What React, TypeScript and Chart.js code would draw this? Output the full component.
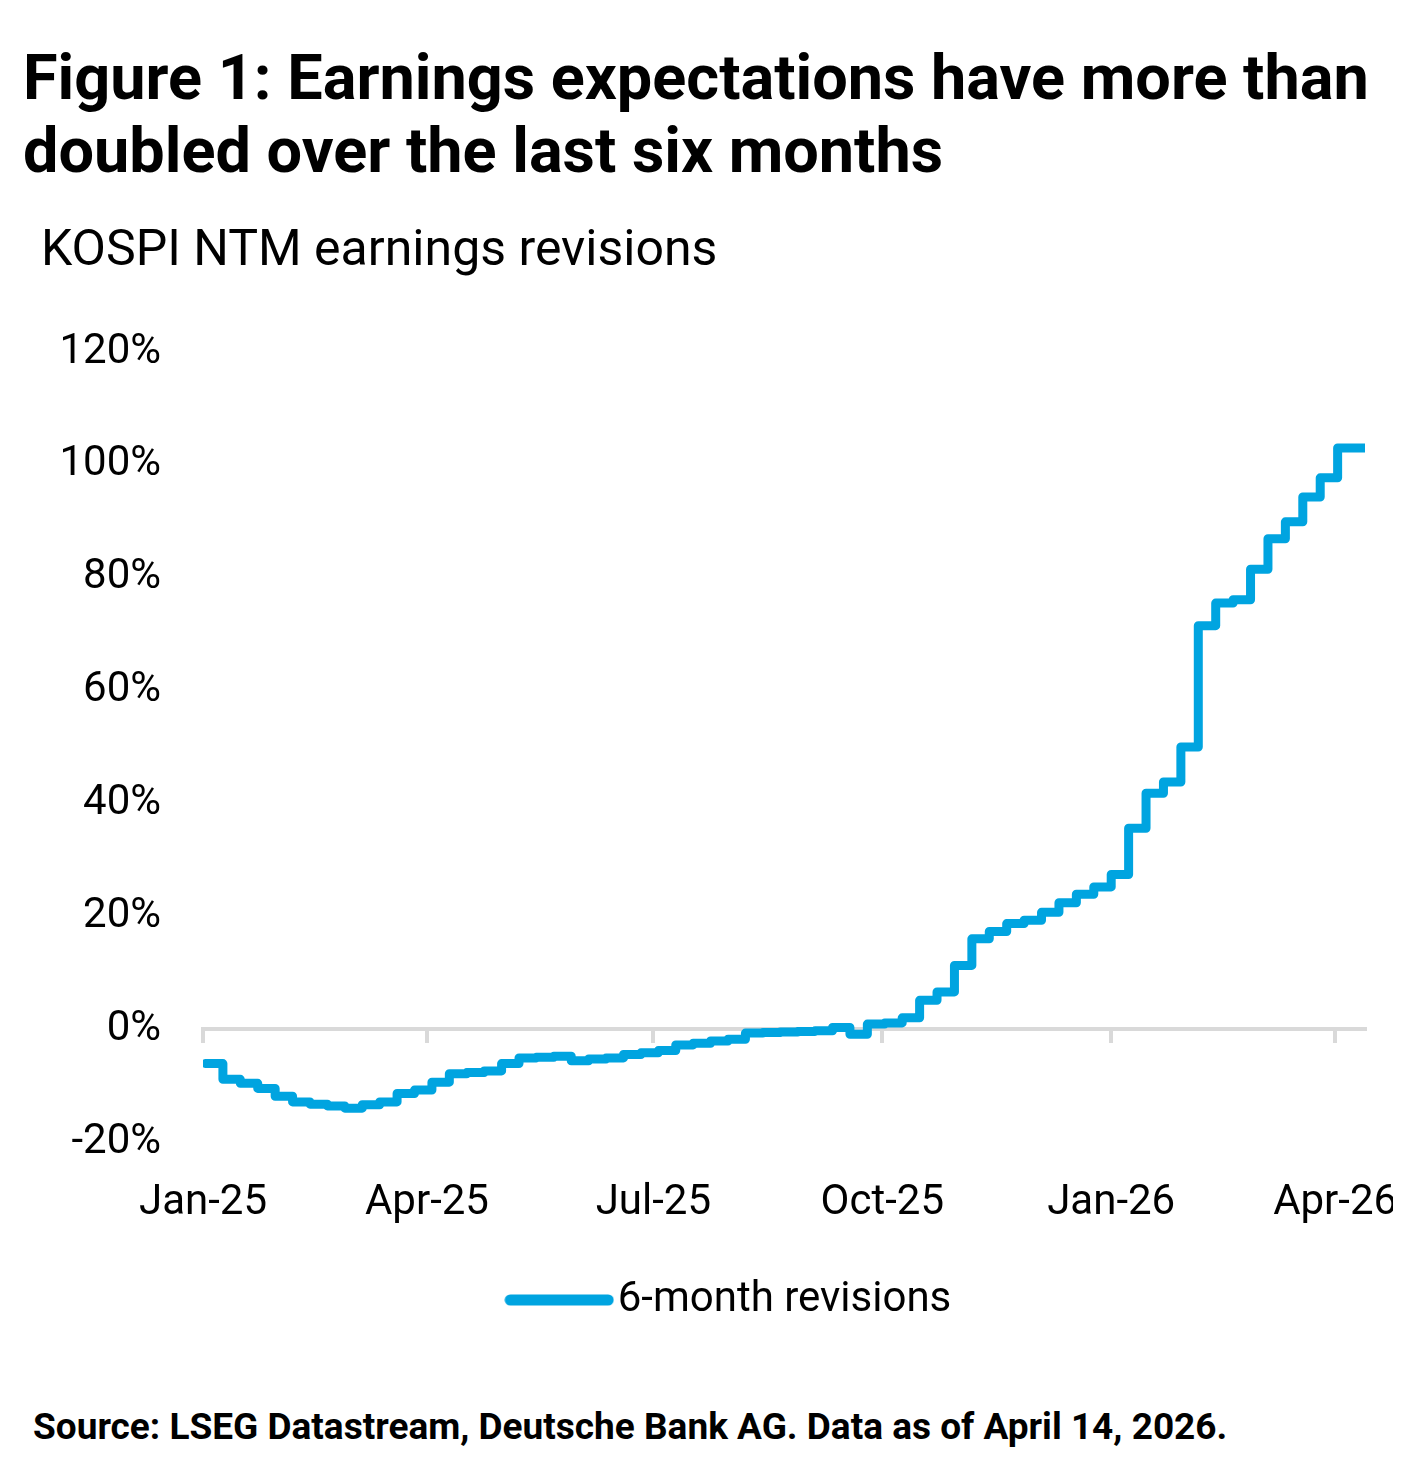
import React, { useEffect, useRef } from "react";
import { Chart, registerables } from "chart.js";

Chart.register(...registerables);

// ---- data ----
const AXIS_START = "2025-01-01";
const FIRST_WEEK = "2025-01-02"; // first weekly observation
const LAST_DATE = "2026-04-13"; // last daily observation
// weekly 6-month NTM earnings revisions, %
const weeklyRevisions = [
  -6.1, -8.9, -9.6, -10.5, -11.9, -12.9, -13.3, -13.6, -14.0, -13.4,
  -12.9, -11.4, -10.8, -9.4, -7.9, -7.7, -7.4, -6.1, -5.1, -5.0,
  -4.8, -5.6, -5.3, -5.1, -4.5, -4.2, -3.8, -2.8, -2.5, -2.1,
  -1.8, -0.7, -0.6, -0.5, -0.4, -0.3, 0.3, -0.9, 0.9, 1.1,
  2.0, 5.1, 6.6, 11.3, 16.0, 17.3, 18.7, 19.3, 20.7, 22.4,
  23.9, 25.2, 27.4, 35.6, 41.8, 43.8, 50.0, 71.5, 75.5, 76.1,
  81.5, 86.9, 89.9, 94.3, 97.7, 103.0, 103.0,
];
const lastValue = 103.0;
const tickDates = ["2025-01-01", "2025-04-01", "2025-07-01", "2025-10-01", "2026-01-01", "2026-04-01"];
const tickLabels = ["Jan-25", "Apr-25", "Jul-25", "Oct-25", "Jan-26", "Apr-26"];
const yMin = -20;
const yMax = 120;
const yStep = 20;
const seriesLabel = "6-month revisions";

const BLUE = "#00A4E0";
const GREY = "#D9D9D9";
const FONT = "Roboto";

const DAY_MS = 86400000;
const dayOf = (d: string) => Math.round((Date.parse(d) - Date.parse(AXIS_START)) / DAY_MS);

const AREA_LEFT = 195;
const LEGEND_SHIFT = 50;

function makeLegendLine(): HTMLCanvasElement {
  const c = document.createElement("canvas");
  c.width = 110;
  c.height = 12;
  const g = c.getContext("2d") as CanvasRenderingContext2D;
  g.strokeStyle = BLUE;
  g.lineWidth = 11;
  g.lineCap = "round";
  g.beginPath();
  g.moveTo(6, 6);
  g.lineTo(104, 6);
  g.stroke();
  return c;
}

export default function App() {
  const ref = useRef<HTMLCanvasElement>(null);

  useEffect(() => {
    const first = dayOf(FIRST_WEEK);
    const pts = weeklyRevisions.map((v, i) => ({ x: first + 7 * i, y: v }));
    pts.push({ x: dayOf(LAST_DATE), y: lastValue });
    const tickDays = tickDates.map(dayOf);
    const setTicks = (s: any) => {
      s.ticks = tickDays.map((v) => ({ value: v }));
    };
    const xMax = dayOf(LAST_DATE);
    const legendLine = makeLegendLine();

    const chart = new Chart(ref.current as HTMLCanvasElement, {
      type: "line",
      data: {
        datasets: [
          {
            label: seriesLabel,
            data: pts,
            borderColor: BLUE,
            backgroundColor: BLUE,
            borderWidth: 9,
            stepped: true,
            pointRadius: 0,
            pointHoverRadius: 0,
            borderCapStyle: "round",
            borderJoinStyle: "round",
            fill: false,
            xAxisID: "x",
            yAxisID: "y",
          } as any,
        ],
      },
      plugins: [
        {
          id: "legendShift",
          afterLayout(c: any) {
            if (c.legend) {
              c.legend.left += LEGEND_SHIFT;
              c.legend.right += LEGEND_SHIFT;
            }
          },
        },
      ],
      options: {
        animation: false,
        responsive: false,
        maintainAspectRatio: false,
        layout: { padding: { left: 0, right: 36, top: 44, bottom: 10 } },
        plugins: {
          tooltip: { enabled: false },
          legend: {
            position: "bottom",
            labels: {
              usePointStyle: true,
              pointStyleWidth: 75,
              boxHeight: 12,
              padding: 10,
              color: "#000",
              font: { family: FONT, size: 42 },
              generateLabels: (c: any) => {
                const items = (Chart.defaults.plugins.legend.labels as any).generateLabels(c);
                items.forEach((it: any) => {
                  it.pointStyle = legendLine;
                  it.lineWidth = 0;
                });
                return items;
              },
            },
          } as any,
        },
        scales: {
          x: {
            type: "linear",
            position: "bottom",
            min: 0,
            max: xMax,
            afterBuildTicks: setTicks,
            grid: { display: false, drawTicks: false },
            border: { display: false },
            ticks: {
              autoSkip: false,
              maxRotation: 0,
              padding: 36,
              color: "#000",
              font: { family: FONT, size: 42 },
              callback: (v: any) => {
                const i = tickDays.indexOf(Number(v));
                return i >= 0 ? tickLabels[i] : "";
              },
            },
            afterFit: (s: any) => {
              s.height = 127;
              s.paddingLeft = 0;
              s.paddingRight = 0;
            },
          } as any,
          x2: {
            type: "linear",
            axis: "x",
            position: { y: 0 },
            min: 0,
            max: xMax,
            afterBuildTicks: setTicks,
            ticks: { display: false },
            grid: { drawOnChartArea: false, drawTicks: true, tickLength: 12, color: GREY, lineWidth: 4 },
            border: { display: true, color: GREY, width: 4 },
            afterFit: (s: any) => {
              s.height = 0;
              s.paddingLeft = 0;
              s.paddingRight = 0;
            },
          } as any,
          y: {
            type: "linear",
            min: yMin,
            max: yMax,
            grid: { display: false, drawTicks: false },
            border: { display: false },
            ticks: {
              stepSize: yStep,
              padding: 42,
              color: "#000",
              font: { family: FONT, size: 42 },
              callback: (v: any) => `${v}%`,
            },
            afterFit: (s: any) => {
              s.width = AREA_LEFT;
              s.paddingTop = 0;
              s.paddingBottom = 0;
            },
          } as any,
        },
      },
    });
    return () => chart.destroy();
  }, []);

  const text: React.CSSProperties = {
    position: "absolute",
    fontFamily: FONT,
    color: "#000",
    whiteSpace: "nowrap",
    margin: 0,
  };

  return (
    <div style={{ position: "relative", width: 1393, height: 1468, background: "#fff" }}>
      <div style={{ ...text, left: 15, top: 33, fontSize: 63, fontWeight: 700, lineHeight: "73px" }}>
        <div>Figure 1: Earnings expectations have more than</div>
        <div>doubled over the last six months</div>
      </div>
      <div style={{ ...text, left: 33, top: 212, fontSize: 50, lineHeight: "56px" }}>
        KOSPI NTM earnings revisions
      </div>
      <canvas
        ref={ref}
        width={1393}
        height={1033}
        style={{ position: "absolute", left: 0, top: 300, width: 1393, height: 1033 }}
      />
      <div style={{ ...text, left: 25, top: 1399, fontSize: 37, fontWeight: 700, lineHeight: "40px" }}>
        Source: LSEG Datastream, Deutsche Bank AG. Data as of April 14, 2026.
      </div>
    </div>
  );
}
